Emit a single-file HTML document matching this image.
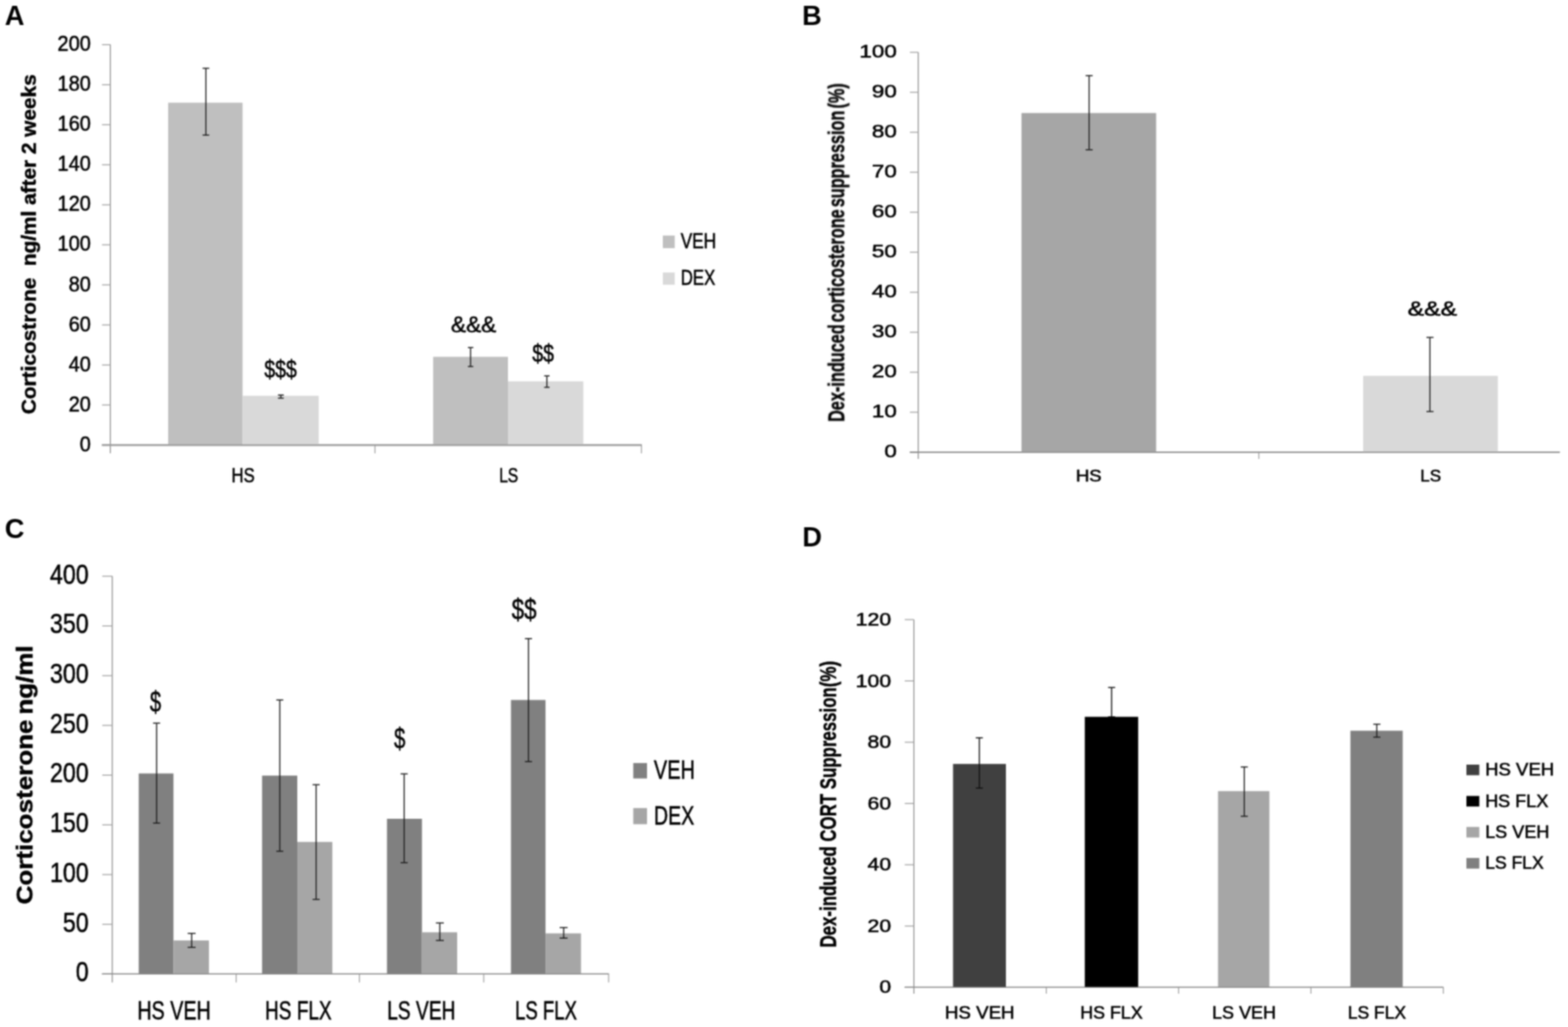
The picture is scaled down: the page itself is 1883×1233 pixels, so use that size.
<!DOCTYPE html>
<html lang="en">
<head>
<meta charset="utf-8">
<title>Figure: corticosterone and dexamethasone suppression</title>
<style>
html,body{margin:0;padding:0;background:#fff;}
body{width:1883px;height:1233px;overflow:hidden;}
svg{display:block;font-family:"Liberation Sans",sans-serif;}
</style>
</head>
<body>
<svg width="1883" height="1233" viewBox="0 0 1883 1233">
<rect x="0" y="0" width="1883" height="1233" fill="#ffffff"/>
<defs><filter id="soft" filterUnits="userSpaceOnUse" x="0" y="0" width="1883" height="1233" color-interpolation-filters="sRGB"><feConvolveMatrix order="5" kernelMatrix="0.00142 0.00904 0.01675 0.00904 0.00142 0.00904 0.05757 0.10673 0.05757 0.00904 0.01675 0.10673 0.19786 0.10673 0.01675 0.00904 0.05757 0.10673 0.05757 0.00904 0.00142 0.00904 0.01675 0.00904 0.00142" edgeMode="duplicate" preserveAlpha="true"/></filter></defs>
<g id="fig" filter="url(#soft)">
<rect x="0" y="0" width="1883" height="1233" fill="#ffffff"/>
<text font-size="34" font-weight="bold" textLength="23.6" lengthAdjust="spacingAndGlyphs" x="5.8" y="30.1" fill="#000">A</text>
<line x1="132.5" y1="53.6" x2="132.5" y2="544.3" stroke="#8c8c8c" stroke-width="1.2"/>
<line x1="122.5" y1="534.3" x2="132.5" y2="534.3" stroke="#9c9c9c" stroke-width="1.15"/>
<line x1="122.5" y1="486.2" x2="132.5" y2="486.2" stroke="#9c9c9c" stroke-width="1.15"/>
<line x1="122.5" y1="438.2" x2="132.5" y2="438.2" stroke="#9c9c9c" stroke-width="1.15"/>
<line x1="122.5" y1="390.1" x2="132.5" y2="390.1" stroke="#9c9c9c" stroke-width="1.15"/>
<line x1="122.5" y1="342.0" x2="132.5" y2="342.0" stroke="#9c9c9c" stroke-width="1.15"/>
<line x1="122.5" y1="293.9" x2="132.5" y2="293.9" stroke="#9c9c9c" stroke-width="1.15"/>
<line x1="122.5" y1="245.9" x2="132.5" y2="245.9" stroke="#9c9c9c" stroke-width="1.15"/>
<line x1="122.5" y1="197.8" x2="132.5" y2="197.8" stroke="#9c9c9c" stroke-width="1.15"/>
<line x1="122.5" y1="149.7" x2="132.5" y2="149.7" stroke="#9c9c9c" stroke-width="1.15"/>
<line x1="122.5" y1="101.7" x2="132.5" y2="101.7" stroke="#9c9c9c" stroke-width="1.15"/>
<line x1="122.5" y1="53.6" x2="132.5" y2="53.6" stroke="#9c9c9c" stroke-width="1.15"/>
<line x1="122.5" y1="534.3" x2="770.6" y2="534.3" stroke="#999999" stroke-width="1.8"/>
<line x1="450.3" y1="534.3" x2="450.3" y2="544.3" stroke="#9c9c9c" stroke-width="1.15"/>
<line x1="770.3" y1="534.3" x2="770.3" y2="544.3" stroke="#9c9c9c" stroke-width="1.15"/>
<rect x="201.9" y="123.3" width="89.4" height="411.0" fill="#bfbfbf"/>
<rect x="291.3" y="475.2" width="91.4" height="59.1" fill="#d9d9d9"/>
<rect x="520.2" y="428.4" width="89.8" height="105.9" fill="#bfbfbf"/>
<rect x="610.0" y="457.8" width="90.5" height="76.5" fill="#d9d9d9"/>
<line x1="122.5" y1="534.3" x2="770.6" y2="534.3" stroke="#999999" stroke-width="1.8"/>
<line x1="247.3" y1="82.0" x2="247.3" y2="162.2" stroke="#1c1c1c" stroke-width="1.35"/>
<line x1="243.3" y1="82.0" x2="251.3" y2="82.0" stroke="#1c1c1c" stroke-width="1.35"/>
<line x1="243.3" y1="162.2" x2="251.3" y2="162.2" stroke="#1c1c1c" stroke-width="1.35"/>
<line x1="337.3" y1="474.3" x2="337.3" y2="478.0" stroke="#1c1c1c" stroke-width="1.35"/>
<line x1="333.8" y1="474.3" x2="340.8" y2="474.3" stroke="#1c1c1c" stroke-width="1.35"/>
<line x1="333.8" y1="478.0" x2="340.8" y2="478.0" stroke="#1c1c1c" stroke-width="1.35"/>
<line x1="565.1" y1="417.3" x2="565.1" y2="440.0" stroke="#1c1c1c" stroke-width="1.35"/>
<line x1="561.9" y1="417.3" x2="568.4" y2="417.3" stroke="#1c1c1c" stroke-width="1.35"/>
<line x1="561.9" y1="440.0" x2="568.4" y2="440.0" stroke="#1c1c1c" stroke-width="1.35"/>
<line x1="656.7" y1="451.3" x2="656.7" y2="465.0" stroke="#1c1c1c" stroke-width="1.35"/>
<line x1="653.5" y1="451.3" x2="660.0" y2="451.3" stroke="#1c1c1c" stroke-width="1.35"/>
<line x1="653.5" y1="465.0" x2="660.0" y2="465.0" stroke="#1c1c1c" stroke-width="1.35"/>
<text font-size="26" stroke="#000" stroke-width="0.6" textLength="13.3" lengthAdjust="spacingAndGlyphs" x="95.7" y="541.8" fill="#000">0</text>
<text font-size="26" stroke="#000" stroke-width="0.6" textLength="26.6" lengthAdjust="spacingAndGlyphs" x="82.4" y="493.7" fill="#000">20</text>
<text font-size="26" stroke="#000" stroke-width="0.6" textLength="26.6" lengthAdjust="spacingAndGlyphs" x="82.4" y="445.7" fill="#000">40</text>
<text font-size="26" stroke="#000" stroke-width="0.6" textLength="26.6" lengthAdjust="spacingAndGlyphs" x="82.4" y="397.6" fill="#000">60</text>
<text font-size="26" stroke="#000" stroke-width="0.6" textLength="26.6" lengthAdjust="spacingAndGlyphs" x="82.4" y="349.5" fill="#000">80</text>
<text font-size="26" stroke="#000" stroke-width="0.6" textLength="39.9" lengthAdjust="spacingAndGlyphs" x="69.1" y="301.4" fill="#000">100</text>
<text font-size="26" stroke="#000" stroke-width="0.6" textLength="39.9" lengthAdjust="spacingAndGlyphs" x="69.1" y="253.4" fill="#000">120</text>
<text font-size="26" stroke="#000" stroke-width="0.6" textLength="39.9" lengthAdjust="spacingAndGlyphs" x="69.1" y="205.3" fill="#000">140</text>
<text font-size="26" stroke="#000" stroke-width="0.6" textLength="39.9" lengthAdjust="spacingAndGlyphs" x="69.1" y="157.2" fill="#000">160</text>
<text font-size="26" stroke="#000" stroke-width="0.6" textLength="39.9" lengthAdjust="spacingAndGlyphs" x="69.1" y="109.2" fill="#000">180</text>
<text font-size="26" stroke="#000" stroke-width="0.6" textLength="39.9" lengthAdjust="spacingAndGlyphs" x="69.1" y="61.1" fill="#000">200</text>
<text font-size="24.5" stroke="#000" stroke-width="0.6" textLength="28.0" lengthAdjust="spacingAndGlyphs" x="278.0" y="579.0" fill="#000">HS</text>
<text font-size="24.5" stroke="#000" stroke-width="0.6" textLength="23.0" lengthAdjust="spacingAndGlyphs" x="599.4" y="579.0" fill="#000">LS</text>
<text font-size="29.4" stroke="#000" stroke-width="0.6" textLength="38.8" lengthAdjust="spacingAndGlyphs" x="317.6" y="452.6" fill="#000">$$$</text>
<text font-size="28.5" stroke="#000" stroke-width="0.6" textLength="54.2" lengthAdjust="spacingAndGlyphs" x="541.6" y="398.8" fill="#000">&amp;&amp;&amp;</text>
<text font-size="29.4" stroke="#000" stroke-width="0.6" textLength="26.0" lengthAdjust="spacingAndGlyphs" x="639.3" y="434.4" fill="#000">$$</text>
<rect x="796.0" y="282.8" width="14.3" height="15.1" fill="#bfbfbf"/>
<text font-size="25" stroke="#000" stroke-width="0.6" textLength="42.5" lengthAdjust="spacingAndGlyphs" x="817.4" y="298.0" fill="#000">VEH</text>
<rect x="796.0" y="327.2" width="14.3" height="14.6" fill="#d9d9d9"/>
<text font-size="25" stroke="#000" stroke-width="0.6" textLength="41.5" lengthAdjust="spacingAndGlyphs" x="817.4" y="342.0" fill="#000">DEX</text>
<text font-size="24.8" xml:space="preserve" style="white-space:pre" stroke="#000" stroke-width="0.5" font-weight="bold" textLength="408.0" lengthAdjust="spacingAndGlyphs" transform="translate(42.9,497.2) rotate(-90)" fill="#000">Corticostrone  ng/ml after 2 weeks</text>
<text font-size="34" font-weight="bold" textLength="23.6" lengthAdjust="spacingAndGlyphs" x="963.3" y="30.1" fill="#000">B</text>
<line x1="1102.7" y1="62.8" x2="1102.7" y2="550.9" stroke="#8c8c8c" stroke-width="1.2"/>
<line x1="1092.7" y1="542.9" x2="1102.7" y2="542.9" stroke="#9c9c9c" stroke-width="1.15"/>
<line x1="1092.7" y1="494.9" x2="1102.7" y2="494.9" stroke="#9c9c9c" stroke-width="1.15"/>
<line x1="1092.7" y1="446.9" x2="1102.7" y2="446.9" stroke="#9c9c9c" stroke-width="1.15"/>
<line x1="1092.7" y1="398.9" x2="1102.7" y2="398.9" stroke="#9c9c9c" stroke-width="1.15"/>
<line x1="1092.7" y1="350.9" x2="1102.7" y2="350.9" stroke="#9c9c9c" stroke-width="1.15"/>
<line x1="1092.7" y1="302.8" x2="1102.7" y2="302.8" stroke="#9c9c9c" stroke-width="1.15"/>
<line x1="1092.7" y1="254.8" x2="1102.7" y2="254.8" stroke="#9c9c9c" stroke-width="1.15"/>
<line x1="1092.7" y1="206.8" x2="1102.7" y2="206.8" stroke="#9c9c9c" stroke-width="1.15"/>
<line x1="1092.7" y1="158.8" x2="1102.7" y2="158.8" stroke="#9c9c9c" stroke-width="1.15"/>
<line x1="1092.7" y1="110.8" x2="1102.7" y2="110.8" stroke="#9c9c9c" stroke-width="1.15"/>
<line x1="1092.7" y1="62.8" x2="1102.7" y2="62.8" stroke="#9c9c9c" stroke-width="1.15"/>
<line x1="1092.7" y1="542.9" x2="1873.2" y2="542.9" stroke="#8c8c8c" stroke-width="1.1"/>
<line x1="1511.7" y1="542.9" x2="1511.7" y2="550.9" stroke="#9c9c9c" stroke-width="1.15"/>
<rect x="1226.7" y="135.7" width="161.7" height="407.2" fill="#a6a6a6"/>
<rect x="1637.0" y="451.3" width="161.7" height="91.6" fill="#d9d9d9"/>
<line x1="1092.7" y1="542.9" x2="1873.2" y2="542.9" stroke="#8c8c8c" stroke-width="1.1"/>
<line x1="1307.9" y1="90.8" x2="1307.9" y2="179.8" stroke="#1c1c1c" stroke-width="1.35"/>
<line x1="1303.7" y1="90.8" x2="1312.2" y2="90.8" stroke="#1c1c1c" stroke-width="1.35"/>
<line x1="1303.7" y1="179.8" x2="1312.2" y2="179.8" stroke="#1c1c1c" stroke-width="1.35"/>
<line x1="1717.2" y1="405.1" x2="1717.2" y2="494.1" stroke="#1c1c1c" stroke-width="1.35"/>
<line x1="1713.0" y1="405.1" x2="1721.5" y2="405.1" stroke="#1c1c1c" stroke-width="1.35"/>
<line x1="1713.0" y1="494.1" x2="1721.5" y2="494.1" stroke="#1c1c1c" stroke-width="1.35"/>
<text font-size="22" stroke="#000" stroke-width="0.6" textLength="15.0" lengthAdjust="spacingAndGlyphs" x="1062.0" y="549.3" fill="#000">0</text>
<text font-size="22" stroke="#000" stroke-width="0.6" textLength="30.0" lengthAdjust="spacingAndGlyphs" x="1047.0" y="501.3" fill="#000">10</text>
<text font-size="22" stroke="#000" stroke-width="0.6" textLength="30.0" lengthAdjust="spacingAndGlyphs" x="1047.0" y="453.3" fill="#000">20</text>
<text font-size="22" stroke="#000" stroke-width="0.6" textLength="30.0" lengthAdjust="spacingAndGlyphs" x="1047.0" y="405.3" fill="#000">30</text>
<text font-size="22" stroke="#000" stroke-width="0.6" textLength="30.0" lengthAdjust="spacingAndGlyphs" x="1047.0" y="357.3" fill="#000">40</text>
<text font-size="22" stroke="#000" stroke-width="0.6" textLength="30.0" lengthAdjust="spacingAndGlyphs" x="1047.0" y="309.2" fill="#000">50</text>
<text font-size="22" stroke="#000" stroke-width="0.6" textLength="30.0" lengthAdjust="spacingAndGlyphs" x="1047.0" y="261.2" fill="#000">60</text>
<text font-size="22" stroke="#000" stroke-width="0.6" textLength="30.0" lengthAdjust="spacingAndGlyphs" x="1047.0" y="213.2" fill="#000">70</text>
<text font-size="22" stroke="#000" stroke-width="0.6" textLength="30.0" lengthAdjust="spacingAndGlyphs" x="1047.0" y="165.2" fill="#000">80</text>
<text font-size="22" stroke="#000" stroke-width="0.6" textLength="30.0" lengthAdjust="spacingAndGlyphs" x="1047.0" y="117.2" fill="#000">90</text>
<text font-size="22" stroke="#000" stroke-width="0.6" textLength="45.0" lengthAdjust="spacingAndGlyphs" x="1032.0" y="69.2" fill="#000">100</text>
<text font-size="20.5" stroke="#000" stroke-width="0.6" textLength="31.0" lengthAdjust="spacingAndGlyphs" x="1292.0" y="578.2" fill="#000">HS</text>
<text font-size="20.5" stroke="#000" stroke-width="0.6" textLength="25.0" lengthAdjust="spacingAndGlyphs" x="1705.6" y="578.2" fill="#000">LS</text>
<text font-size="23" stroke="#000" stroke-width="0.6" textLength="59.0" lengthAdjust="spacingAndGlyphs" x="1690.6" y="378.6" fill="#000">&amp;&amp;&amp;</text>
<text font-size="28.5" stroke="#000" stroke-width="0.5" word-spacing="-4.3" font-weight="bold" textLength="406.5" lengthAdjust="spacingAndGlyphs" transform="translate(1013.8,506.5) rotate(-90)" fill="#000">Dex-induced corticosterone suppression (%)</text>
<text font-size="34" font-weight="bold" textLength="23.6" lengthAdjust="spacingAndGlyphs" x="5.7" y="645.8" fill="#000">C</text>
<line x1="134.8" y1="691.8" x2="134.8" y2="1179.4" stroke="#8c8c8c" stroke-width="1.2"/>
<line x1="122.8" y1="1169.4" x2="134.8" y2="1169.4" stroke="#9c9c9c" stroke-width="1.15"/>
<line x1="122.8" y1="1109.7" x2="134.8" y2="1109.7" stroke="#9c9c9c" stroke-width="1.15"/>
<line x1="122.8" y1="1050.0" x2="134.8" y2="1050.0" stroke="#9c9c9c" stroke-width="1.15"/>
<line x1="122.8" y1="990.3" x2="134.8" y2="990.3" stroke="#9c9c9c" stroke-width="1.15"/>
<line x1="122.8" y1="930.6" x2="134.8" y2="930.6" stroke="#9c9c9c" stroke-width="1.15"/>
<line x1="122.8" y1="870.9" x2="134.8" y2="870.9" stroke="#9c9c9c" stroke-width="1.15"/>
<line x1="122.8" y1="811.2" x2="134.8" y2="811.2" stroke="#9c9c9c" stroke-width="1.15"/>
<line x1="122.8" y1="751.5" x2="134.8" y2="751.5" stroke="#9c9c9c" stroke-width="1.15"/>
<line x1="122.8" y1="691.8" x2="134.8" y2="691.8" stroke="#9c9c9c" stroke-width="1.15"/>
<line x1="122.8" y1="1169.4" x2="731.2" y2="1169.4" stroke="#8c8c8c" stroke-width="1.2"/>
<line x1="283.6" y1="1169.4" x2="283.6" y2="1179.4" stroke="#9c9c9c" stroke-width="1.15"/>
<line x1="431.6" y1="1169.4" x2="431.6" y2="1179.4" stroke="#9c9c9c" stroke-width="1.15"/>
<line x1="580.9" y1="1169.4" x2="580.9" y2="1179.4" stroke="#9c9c9c" stroke-width="1.15"/>
<line x1="730.9" y1="1169.4" x2="730.9" y2="1179.4" stroke="#9c9c9c" stroke-width="1.15"/>
<rect x="166.6" y="928.6" width="41.7" height="240.8" fill="#808080"/>
<rect x="208.3" y="1129.1" width="42.6" height="40.3" fill="#a6a6a6"/>
<rect x="314.7" y="931.2" width="42.3" height="238.2" fill="#808080"/>
<rect x="357.0" y="1010.8" width="42.1" height="158.6" fill="#a6a6a6"/>
<rect x="464.7" y="983.0" width="42.0" height="186.4" fill="#808080"/>
<rect x="506.7" y="1119.3" width="42.3" height="50.1" fill="#a6a6a6"/>
<rect x="613.6" y="840.4" width="41.5" height="329.0" fill="#808080"/>
<rect x="655.1" y="1120.6" width="42.6" height="48.8" fill="#a6a6a6"/>
<line x1="122.4" y1="1169.4" x2="731.2" y2="1169.4" stroke="#8c8c8c" stroke-width="1.2"/>
<line x1="188.1" y1="868.2" x2="188.1" y2="988.2" stroke="#1c1c1c" stroke-width="1.35"/>
<line x1="183.8" y1="868.2" x2="192.3" y2="868.2" stroke="#1c1c1c" stroke-width="1.35"/>
<line x1="183.8" y1="988.2" x2="192.3" y2="988.2" stroke="#1c1c1c" stroke-width="1.35"/>
<line x1="230.2" y1="1120.6" x2="230.2" y2="1137.4" stroke="#1c1c1c" stroke-width="1.35"/>
<line x1="225.4" y1="1120.6" x2="234.9" y2="1120.6" stroke="#1c1c1c" stroke-width="1.35"/>
<line x1="225.4" y1="1137.4" x2="234.9" y2="1137.4" stroke="#1c1c1c" stroke-width="1.35"/>
<line x1="336.0" y1="840.4" x2="336.0" y2="1022.0" stroke="#1c1c1c" stroke-width="1.35"/>
<line x1="331.8" y1="840.4" x2="340.2" y2="840.4" stroke="#1c1c1c" stroke-width="1.35"/>
<line x1="331.8" y1="1022.0" x2="340.2" y2="1022.0" stroke="#1c1c1c" stroke-width="1.35"/>
<line x1="379.6" y1="942.1" x2="379.6" y2="1079.8" stroke="#1c1c1c" stroke-width="1.35"/>
<line x1="375.4" y1="942.1" x2="383.9" y2="942.1" stroke="#1c1c1c" stroke-width="1.35"/>
<line x1="375.4" y1="1079.8" x2="383.9" y2="1079.8" stroke="#1c1c1c" stroke-width="1.35"/>
<line x1="485.4" y1="929.1" x2="485.4" y2="1035.7" stroke="#1c1c1c" stroke-width="1.35"/>
<line x1="481.1" y1="929.1" x2="489.6" y2="929.1" stroke="#1c1c1c" stroke-width="1.35"/>
<line x1="481.1" y1="1035.7" x2="489.6" y2="1035.7" stroke="#1c1c1c" stroke-width="1.35"/>
<line x1="528.2" y1="1108.1" x2="528.2" y2="1129.1" stroke="#1c1c1c" stroke-width="1.35"/>
<line x1="523.5" y1="1108.1" x2="533.0" y2="1108.1" stroke="#1c1c1c" stroke-width="1.35"/>
<line x1="523.5" y1="1129.1" x2="533.0" y2="1129.1" stroke="#1c1c1c" stroke-width="1.35"/>
<line x1="634.6" y1="766.7" x2="634.6" y2="914.4" stroke="#1c1c1c" stroke-width="1.35"/>
<line x1="630.4" y1="766.7" x2="638.9" y2="766.7" stroke="#1c1c1c" stroke-width="1.35"/>
<line x1="630.4" y1="914.4" x2="638.9" y2="914.4" stroke="#1c1c1c" stroke-width="1.35"/>
<line x1="676.9" y1="1113.6" x2="676.9" y2="1126.3" stroke="#1c1c1c" stroke-width="1.35"/>
<line x1="672.1" y1="1113.6" x2="681.6" y2="1113.6" stroke="#1c1c1c" stroke-width="1.35"/>
<line x1="672.1" y1="1126.3" x2="681.6" y2="1126.3" stroke="#1c1c1c" stroke-width="1.35"/>
<text font-size="33" stroke="#000" stroke-width="0.6" textLength="15.5" lengthAdjust="spacingAndGlyphs" x="91.1" y="1178.2" fill="#000">0</text>
<text font-size="33" stroke="#000" stroke-width="0.6" textLength="31.0" lengthAdjust="spacingAndGlyphs" x="75.6" y="1118.5" fill="#000">50</text>
<text font-size="33" stroke="#000" stroke-width="0.6" textLength="46.5" lengthAdjust="spacingAndGlyphs" x="60.1" y="1058.8" fill="#000">100</text>
<text font-size="33" stroke="#000" stroke-width="0.6" textLength="46.5" lengthAdjust="spacingAndGlyphs" x="60.1" y="999.1" fill="#000">150</text>
<text font-size="33" stroke="#000" stroke-width="0.6" textLength="46.5" lengthAdjust="spacingAndGlyphs" x="60.1" y="939.4" fill="#000">200</text>
<text font-size="33" stroke="#000" stroke-width="0.6" textLength="46.5" lengthAdjust="spacingAndGlyphs" x="60.1" y="879.7" fill="#000">250</text>
<text font-size="33" stroke="#000" stroke-width="0.6" textLength="46.5" lengthAdjust="spacingAndGlyphs" x="60.1" y="820.0" fill="#000">300</text>
<text font-size="33" stroke="#000" stroke-width="0.6" textLength="46.5" lengthAdjust="spacingAndGlyphs" x="60.1" y="760.3" fill="#000">350</text>
<text font-size="33" stroke="#000" stroke-width="0.6" textLength="46.5" lengthAdjust="spacingAndGlyphs" x="60.1" y="700.6" fill="#000">400</text>
<text font-size="32" stroke="#000" stroke-width="0.6" textLength="88.0" lengthAdjust="spacingAndGlyphs" x="165.0" y="1223.6" fill="#000">HS VEH</text>
<text font-size="32" stroke="#000" stroke-width="0.6" textLength="80.0" lengthAdjust="spacingAndGlyphs" x="318.3" y="1223.6" fill="#000">HS FLX</text>
<text font-size="32" stroke="#000" stroke-width="0.6" textLength="82.0" lengthAdjust="spacingAndGlyphs" x="465.0" y="1223.6" fill="#000">LS VEH</text>
<text font-size="32" stroke="#000" stroke-width="0.6" textLength="74.3" lengthAdjust="spacingAndGlyphs" x="618.5" y="1223.6" fill="#000">LS FLX</text>
<text font-size="35.3" stroke="#000" stroke-width="0.6" textLength="13.5" lengthAdjust="spacingAndGlyphs" x="180.0" y="854.8" fill="#000">$</text>
<text font-size="35.3" stroke="#000" stroke-width="0.6" textLength="13.5" lengthAdjust="spacingAndGlyphs" x="473.3" y="899.0" fill="#000">$</text>
<text font-size="35.3" stroke="#000" stroke-width="0.6" textLength="29.8" lengthAdjust="spacingAndGlyphs" x="614.6" y="744.1" fill="#000">$$</text>
<rect x="760.5" y="916.1" width="16.5" height="18.5" fill="#808080"/>
<text font-size="32" stroke="#000" stroke-width="0.6" textLength="49.2" lengthAdjust="spacingAndGlyphs" x="785.3" y="935.0" fill="#000">VEH</text>
<rect x="760.5" y="970.2" width="16.5" height="19.3" fill="#a6a6a6"/>
<text font-size="32" stroke="#000" stroke-width="0.6" textLength="48.5" lengthAdjust="spacingAndGlyphs" x="785.3" y="990.0" fill="#000">DEX</text>
<text font-size="28" stroke="#000" stroke-width="0.5" word-spacing="-2.5" font-weight="bold" textLength="311.0" lengthAdjust="spacingAndGlyphs" transform="translate(39.4,1085.8) rotate(-90)" fill="#000">Corticosterone ng/ml</text>
<text font-size="34" font-weight="bold" textLength="23.6" lengthAdjust="spacingAndGlyphs" x="963.4" y="656.2" fill="#000">D</text>
<line x1="1097.5" y1="743.9" x2="1097.5" y2="1192.9" stroke="#8c8c8c" stroke-width="1.2"/>
<line x1="1086.5" y1="1185.4" x2="1097.5" y2="1185.4" stroke="#9c9c9c" stroke-width="1.15"/>
<line x1="1086.5" y1="1111.8" x2="1097.5" y2="1111.8" stroke="#9c9c9c" stroke-width="1.15"/>
<line x1="1086.5" y1="1038.2" x2="1097.5" y2="1038.2" stroke="#9c9c9c" stroke-width="1.15"/>
<line x1="1086.5" y1="964.6" x2="1097.5" y2="964.6" stroke="#9c9c9c" stroke-width="1.15"/>
<line x1="1086.5" y1="891.1" x2="1097.5" y2="891.1" stroke="#9c9c9c" stroke-width="1.15"/>
<line x1="1086.5" y1="817.5" x2="1097.5" y2="817.5" stroke="#9c9c9c" stroke-width="1.15"/>
<line x1="1086.5" y1="743.9" x2="1097.5" y2="743.9" stroke="#9c9c9c" stroke-width="1.15"/>
<line x1="1086.5" y1="1185.4" x2="1733.3" y2="1185.4" stroke="#8c8c8c" stroke-width="1.2"/>
<line x1="1256.5" y1="1185.4" x2="1256.5" y2="1192.9" stroke="#9c9c9c" stroke-width="1.15"/>
<line x1="1415.4" y1="1185.4" x2="1415.4" y2="1192.9" stroke="#9c9c9c" stroke-width="1.15"/>
<line x1="1574.3" y1="1185.4" x2="1574.3" y2="1192.9" stroke="#9c9c9c" stroke-width="1.15"/>
<line x1="1733.3" y1="1185.4" x2="1733.3" y2="1192.9" stroke="#9c9c9c" stroke-width="1.15"/>
<rect x="1144.5" y="917.2" width="63.5" height="268.2" fill="#404040"/>
<rect x="1302.7" y="860.6" width="64.1" height="324.8" fill="#000000"/>
<rect x="1462.7" y="949.8" width="61.7" height="235.6" fill="#a6a6a6"/>
<rect x="1621.7" y="877.3" width="62.8" height="308.1" fill="#808080"/>
<line x1="1086.5" y1="1185.4" x2="1733.3" y2="1185.4" stroke="#8c8c8c" stroke-width="1.2"/>
<line x1="1176.1" y1="885.8" x2="1176.1" y2="946.2" stroke="#101010" stroke-width="1.35"/>
<line x1="1171.8" y1="885.8" x2="1180.3" y2="885.8" stroke="#101010" stroke-width="1.35"/>
<line x1="1171.8" y1="946.2" x2="1180.3" y2="946.2" stroke="#101010" stroke-width="1.35"/>
<line x1="1334.9" y1="825.4" x2="1334.9" y2="860.6" stroke="#101010" stroke-width="1.35"/>
<line x1="1330.7" y1="825.4" x2="1339.2" y2="825.4" stroke="#101010" stroke-width="1.35"/>
<line x1="1330.7" y1="860.6" x2="1339.2" y2="860.6" stroke="#101010" stroke-width="1.35"/>
<line x1="1494.3" y1="920.8" x2="1494.3" y2="980.0" stroke="#1c1c1c" stroke-width="1.35"/>
<line x1="1490.0" y1="920.8" x2="1498.5" y2="920.8" stroke="#1c1c1c" stroke-width="1.35"/>
<line x1="1490.0" y1="980.0" x2="1498.5" y2="980.0" stroke="#1c1c1c" stroke-width="1.35"/>
<line x1="1653.4" y1="869.5" x2="1653.4" y2="885.0" stroke="#1c1c1c" stroke-width="1.35"/>
<line x1="1649.2" y1="869.5" x2="1657.7" y2="869.5" stroke="#1c1c1c" stroke-width="1.35"/>
<line x1="1649.2" y1="885.0" x2="1657.7" y2="885.0" stroke="#1c1c1c" stroke-width="1.35"/>
<text font-size="22" stroke="#000" stroke-width="0.6" textLength="14.2" lengthAdjust="spacingAndGlyphs" x="1056.0" y="1192.4" fill="#000">0</text>
<text font-size="22" stroke="#000" stroke-width="0.6" textLength="28.4" lengthAdjust="spacingAndGlyphs" x="1041.8" y="1118.8" fill="#000">20</text>
<text font-size="22" stroke="#000" stroke-width="0.6" textLength="28.4" lengthAdjust="spacingAndGlyphs" x="1041.8" y="1045.2" fill="#000">40</text>
<text font-size="22" stroke="#000" stroke-width="0.6" textLength="28.4" lengthAdjust="spacingAndGlyphs" x="1041.8" y="971.6" fill="#000">60</text>
<text font-size="22" stroke="#000" stroke-width="0.6" textLength="28.4" lengthAdjust="spacingAndGlyphs" x="1041.8" y="898.1" fill="#000">80</text>
<text font-size="22" stroke="#000" stroke-width="0.6" textLength="42.6" lengthAdjust="spacingAndGlyphs" x="1027.6" y="824.5" fill="#000">100</text>
<text font-size="22" stroke="#000" stroke-width="0.6" textLength="42.6" lengthAdjust="spacingAndGlyphs" x="1027.6" y="750.9" fill="#000">120</text>
<text font-size="22" stroke="#000" stroke-width="0.6" textLength="83.5" lengthAdjust="spacingAndGlyphs" x="1134.8" y="1223.0" fill="#000">HS VEH</text>
<text font-size="22" stroke="#000" stroke-width="0.6" textLength="75.0" lengthAdjust="spacingAndGlyphs" x="1297.3" y="1223.0" fill="#000">HS FLX</text>
<text font-size="22" stroke="#000" stroke-width="0.6" textLength="77.0" lengthAdjust="spacingAndGlyphs" x="1455.4" y="1223.0" fill="#000">LS VEH</text>
<text font-size="22" stroke="#000" stroke-width="0.6" textLength="70.0" lengthAdjust="spacingAndGlyphs" x="1618.6" y="1223.0" fill="#000">LS FLX</text>
<rect x="1761.0" y="918.0" width="15.5" height="12.7" fill="#404040"/>
<text font-size="21.5" stroke="#000" stroke-width="0.6" textLength="83.0" lengthAdjust="spacingAndGlyphs" x="1783.4" y="930.9" fill="#000">HS VEH</text>
<rect x="1761.0" y="955.6" width="15.5" height="12.7" fill="#000"/>
<text font-size="21.5" stroke="#000" stroke-width="0.6" textLength="76.0" lengthAdjust="spacingAndGlyphs" x="1783.4" y="968.5" fill="#000">HS FLX</text>
<rect x="1761.0" y="992.8" width="15.5" height="12.7" fill="#a6a6a6"/>
<text font-size="21.5" stroke="#000" stroke-width="0.6" textLength="77.3" lengthAdjust="spacingAndGlyphs" x="1783.4" y="1005.7" fill="#000">LS VEH</text>
<rect x="1761.0" y="1030.1" width="15.5" height="12.7" fill="#808080"/>
<text font-size="21.5" stroke="#000" stroke-width="0.6" textLength="70.6" lengthAdjust="spacingAndGlyphs" x="1783.4" y="1043.0" fill="#000">LS FLX</text>
<rect x="1865.0" y="910.0" width="18.0" height="30.0" fill="#fff"/>
<text font-size="27" stroke="#000" stroke-width="0.5" font-weight="bold" textLength="344.0" lengthAdjust="spacingAndGlyphs" transform="translate(1004.0,1137.6) rotate(-90)" fill="#000">Dex-induced CORT Suppression(%)</text>
</g>
</svg>
</body>
</html>
